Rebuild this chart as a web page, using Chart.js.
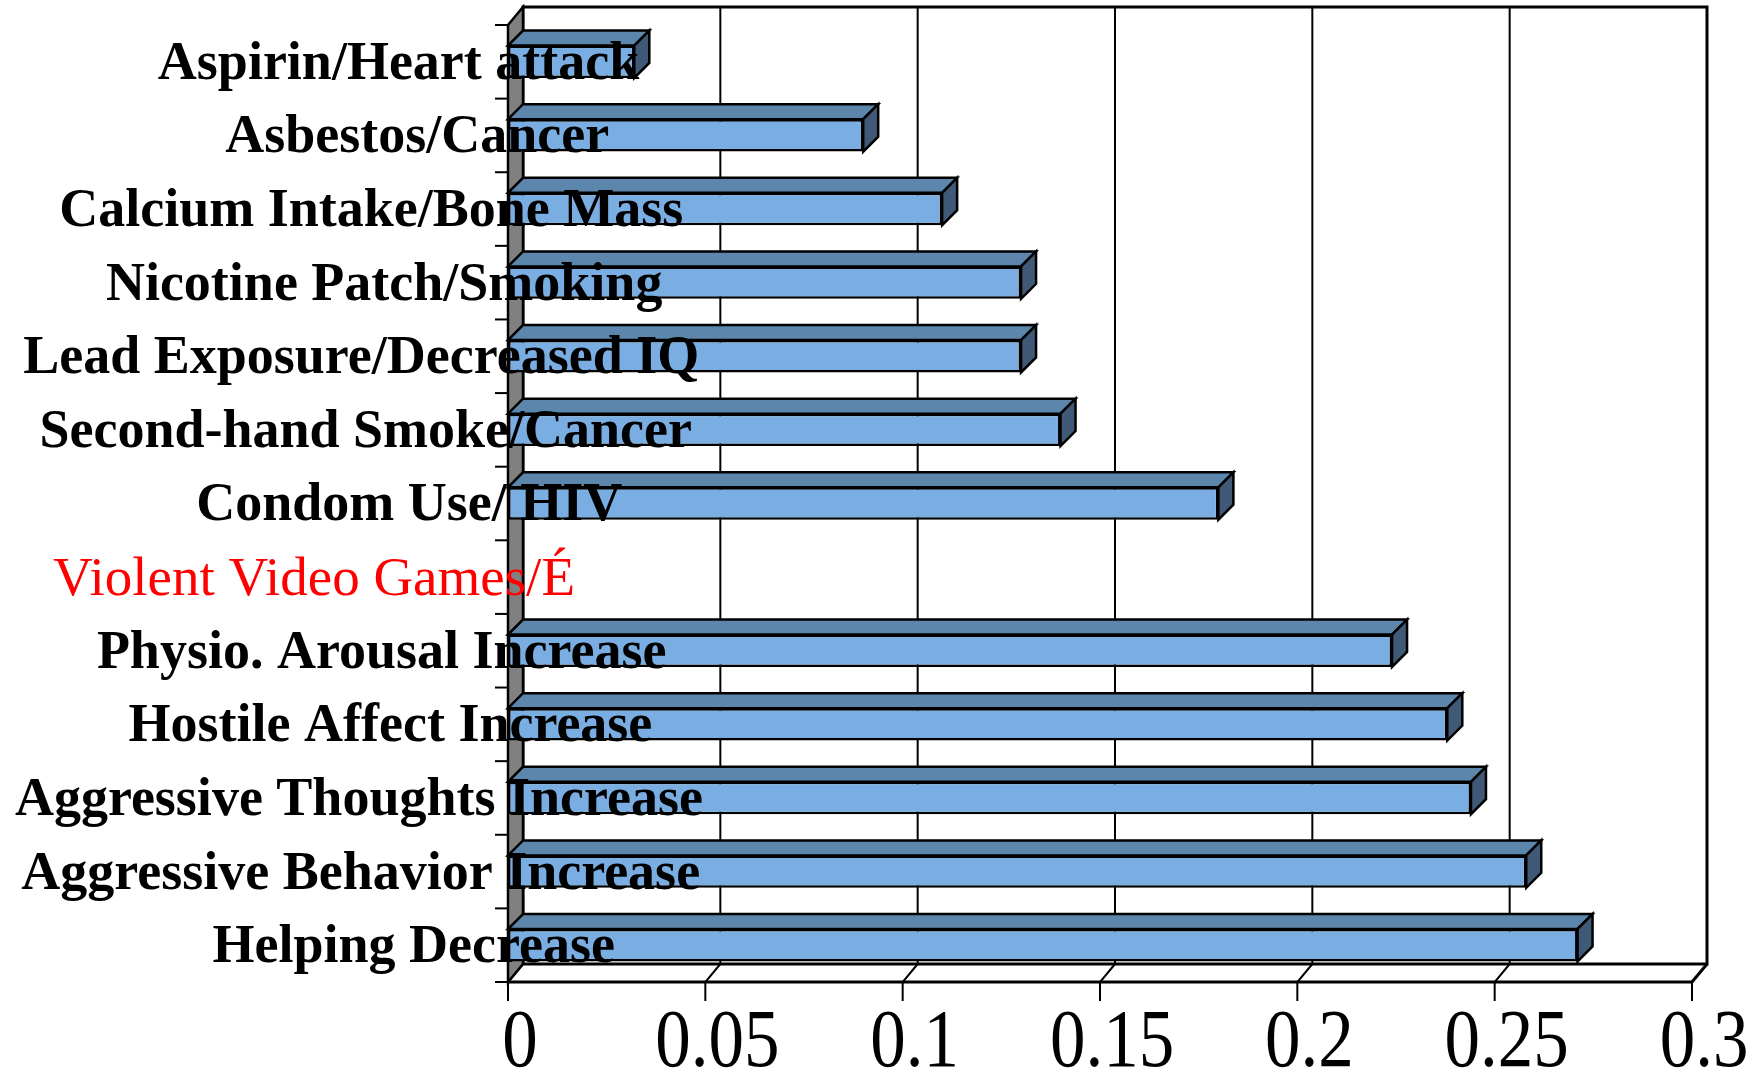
<!DOCTYPE html>
<html><head><meta charset="utf-8">
<script src="https://cdn.jsdelivr.net/npm/chart.js@4/dist/chart.umd.min.js"></script>
<style>html,body{margin:0;padding:0;background:#fff;overflow:hidden}#wrap{width:1762px;height:1077px;position:relative}</style>
</head><body><div id="wrap"><canvas id="c" width="1762" height="1077"></canvas></div>
<script>
// ---- data ----
const categories = ["Aspirin/Heart attack","Asbestos/Cancer","Calcium Intake/Bone Mass","Nicotine Patch/Smoking","Lead Exposure/Decreased IQ","Second-hand Smoke/Cancer","Condom Use/ HIV","Violent Video Games/É","Physio. Arousal Increase","Hostile Affect Increase","Aggressive Thoughts Increase","Aggressive Behavior Increase","Helping Decrease"];
const effectSizes = [0.032,0.090,0.110,0.130,0.130,0.140,0.180,null,0.224,0.238,0.244,0.258,0.271];
const headingRows = [false,false,false,false,false,false,false,true,false,false,false,false,false];
const xTickLabels = ["0","0.05","0.1","0.15","0.2","0.25","0.3"];
const xMin = 0, xMax = 0.3, xStep = 0.05;

// ---- style ----
const DX = 15, DY = 18;     // wall depth
const BDX = 15, BDY = 15;   // bar depth
const FRONT = 'rgb(122,174,226)', TOP = 'rgb(92,134,172)', SIDE = 'rgb(63,89,118)', WALL = 'rgb(128,128,128)';

const frame3d = {
  id: 'frame3d',
  beforeDatasetsDraw(chart) {
    const {ctx, chartArea: a, scales: {x, y}} = chart;
    const bl = a.left + DX, bt = a.top - DY, br = a.right + DX, bb = a.bottom - DY;
    ctx.save();
    ctx.lineJoin = 'miter';
    ctx.fillStyle = '#fff';
    ctx.fillRect(bl, bt, br - bl, bb - bt);
    ctx.beginPath();
    ctx.moveTo(a.left, a.bottom); ctx.lineTo(bl, bb); ctx.lineTo(br, bb); ctx.lineTo(a.right, a.bottom); ctx.closePath();
    ctx.fill();
    ctx.strokeStyle = '#000'; ctx.lineWidth = 2;
    x.ticks.forEach((t, i) => {
      const px = x.getPixelForValue(t.value);
      if (i > 0 && i < x.ticks.length - 1) {
        ctx.beginPath(); ctx.moveTo(px + DX, bt); ctx.lineTo(px + DX, bb); ctx.stroke();
      }
      ctx.beginPath(); ctx.moveTo(px + DX, bb); ctx.lineTo(px, a.bottom); ctx.lineTo(px, a.bottom + 19); ctx.stroke();
    });
    ctx.lineWidth = 3;
    ctx.strokeRect(bl, bt, br - bl, bb - bt);
    ctx.beginPath(); ctx.moveTo(a.left, a.bottom); ctx.lineTo(a.right, a.bottom); ctx.stroke();
    ctx.beginPath(); ctx.moveTo(br, bb); ctx.lineTo(a.right, a.bottom); ctx.stroke();
    ctx.fillStyle = WALL; ctx.lineWidth = 2.5;
    ctx.beginPath();
    ctx.moveTo(a.left, a.top); ctx.lineTo(bl, bt); ctx.lineTo(bl, bb); ctx.lineTo(a.left, a.bottom); ctx.closePath();
    ctx.fill(); ctx.stroke();
    ctx.lineWidth = 2;
    for (let i = 0; i <= categories.length; i++) {
      const py = y.getPixelForValue(i - 0.5);
      ctx.beginPath(); ctx.moveTo(a.left - 13, py); ctx.lineTo(a.left, py); ctx.stroke();
    }
    ctx.restore();
  },
  afterDatasetsDraw(chart) {
    const {ctx} = chart;
    const meta = chart.getDatasetMeta(0);
    ctx.save();
    ctx.strokeStyle = '#000'; ctx.lineWidth = 2.5; ctx.lineJoin = 'miter';
    meta.data.forEach((bar, i) => {
      if (effectSizes[i] == null) return;
      const p = bar.getProps(['x', 'y', 'base', 'height'], true);
      const top = p.y - p.height / 2, bot = p.y + p.height / 2;
      ctx.fillStyle = TOP;
      ctx.beginPath();
      ctx.moveTo(p.base, top); ctx.lineTo(p.x, top); ctx.lineTo(p.x + BDX, top - BDY); ctx.lineTo(p.base + BDX, top - BDY); ctx.closePath();
      ctx.fill(); ctx.stroke();
      ctx.fillStyle = SIDE;
      ctx.beginPath();
      ctx.moveTo(p.x, top); ctx.lineTo(p.x + BDX, top - BDY); ctx.lineTo(p.x + BDX, bot - BDY); ctx.lineTo(p.x, bot); ctx.closePath();
      ctx.fill(); ctx.stroke();
    });
    ctx.restore();
  },
  afterDraw(chart) {
    const {ctx, scales: {x, y}} = chart;
    ctx.save();
    ctx.textBaseline = 'middle';
    categories.forEach((c, i) => {
      const py = y.getPixelForValue(i) + 3;
      if (headingRows[i]) {
        ctx.font = '55px "Liberation Serif"'; ctx.fillStyle = '#ff0000'; ctx.textAlign = 'right';
        ctx.fillText(c, 575, py);
      } else {
        ctx.font = 'bold 54px "Liberation Serif"'; ctx.fillStyle = '#000'; ctx.textAlign = 'left';
        const w = ctx.measureText(c).width;
        ctx.fillText(c, 491 - 0.692 * w, py);
      }
    });
    ctx.font = '71px "Liberation Serif"'; ctx.fillStyle = '#000'; ctx.textAlign = 'center';
    x.ticks.forEach((t, i) => {
      const px = x.getPixelForValue(t.value) + DX - 3;
      ctx.save(); ctx.translate(px, 1045); ctx.scale(1, 1.15);
      ctx.fillText(xTickLabels[i], 0, 0);
      ctx.restore();
    });
    ctx.restore();
  }
};

new Chart(document.getElementById('c'), {
  type: 'bar',
  data: {
    labels: categories,
    datasets: [{
      data: effectSizes,
      backgroundColor: FRONT,
      borderColor: '#000',
      borderWidth: 2.5,
      borderSkipped: false,
      barPercentage: 0.44,
      categoryPercentage: 1
    }]
  },
  options: {
    indexAxis: 'y',
    responsive: false,
    animation: false,
    devicePixelRatio: 1,
    layout: {padding: {left: 508, right: 70, top: 25, bottom: 95}},
    plugins: {legend: {display: false}, tooltip: {enabled: false}},
    scales: {
      x: {type: 'linear', display: false, min: xMin, max: xMax, ticks: {stepSize: xStep}},
      y: {type: 'category', display: false}
    }
  },
  plugins: [frame3d]
});
</script>
</body></html>
